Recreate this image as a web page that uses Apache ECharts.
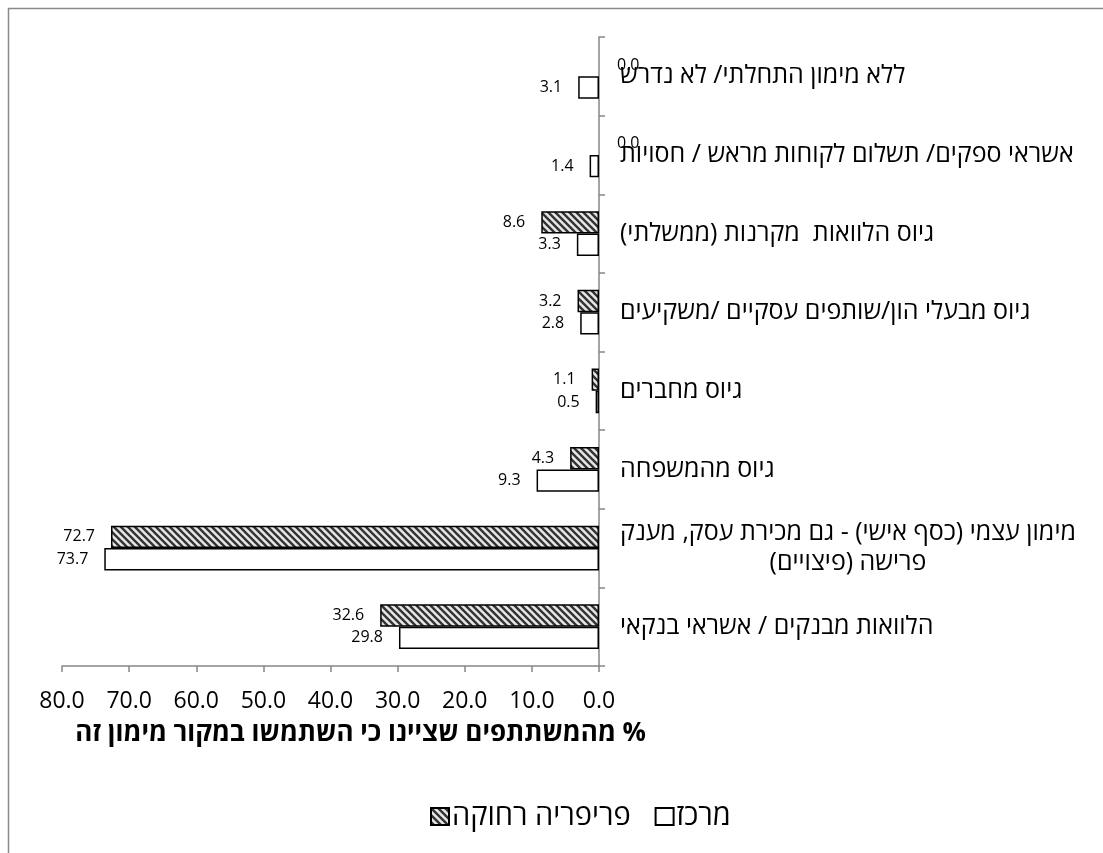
<!DOCTYPE html>
<html>
<head>
<meta charset="utf-8">
<script src="https://cdn.jsdelivr.net/npm/echarts@6/dist/echarts.min.js"></script>
<style>
  html, body { margin: 0; padding: 0; background: #fff; }
  #chart { width: 1103px; height: 853px; }
</style>
</head>
<body>
<div id="chart"></div>
<script>
// Funding sources, listed bottom to top along the category axis
const categories = [
  'הלוואות מבנקים / אשראי בנקאי',
  'מימון עצמי (כסף אישי) - גם מכירת עסק, מענק\nפרישה (פיצויים)',
  'גיוס מהמשפחה',
  'גיוס מחברים',
  'גיוס מבעלי הון/שותפים עסקיים /משקיעים',
  'גיוס הלוואות  מקרנות (ממשלתי)',
  'אשראי ספקים/ תשלום לקוחות מראש / חסויות',
  'ללא מימון התחלתי/ לא נדרש'
];
// Percentage of participants per region
const periphery = [32.6, 72.7, 4.3, 1.1, 3.2, 8.6, 0.0, 0.0];
const center    = [29.8, 73.7, 9.3, 0.5, 2.8, 3.3, 1.4, 3.1];
const seriesNames = ['פריפריה רחוקה', 'מרכז'];
const axisTitle = '% מהמשתתפים שציינו כי השתמשו במקור מימון זה';
const valueAxisMin = 0, valueAxisMax = 80, valueAxisStep = 10;

const FONT = '"Open Sans", "Liberation Sans", "DejaVu Sans", sans-serif';
const AXIS_GRAY = '#868686';

// Hebrew lines are embedded right-to-left so neutral characters land correctly
const rtl = s => '\u202B' + s + '\u202C';

// Diagonal hatch tile used for the periphery bars
function hatchTile() {
  const s = 7;
  const c = document.createElement('canvas');
  c.width = c.height = s;
  const g = c.getContext('2d');
  g.fillStyle = '#e6e6e6';
  g.fillRect(0, 0, s, s);
  g.strokeStyle = '#333';
  g.lineWidth = 2.4;
  g.beginPath();
  for (const k of [-s, 0, s]) {
    g.moveTo(k - 1, -1);
    g.lineTo(k + s + 1, s + 1);
  }
  g.stroke();
  return c;
}
const hatch = { image: hatchTile(), repeat: 'repeat' };

// Zero-length bars get no outline and carry their label on the far side of the axis
function buildData(values) {
  return values.map(v => v === 0
    ? { value: v, itemStyle: { borderWidth: 0 }, label: { position: 'right', distance: 18 } }
    : v);
}

const labelStyle = {
  show: true,
  position: 'left',
  distance: 16,
  fontSize: 16,
  fontFamily: FONT,
  color: '#000',
  formatter: p => Number(p.value).toFixed(1)
};

const chart = echarts.init(document.getElementById('chart'), null, { renderer: 'canvas' });
chart.setOption({
  backgroundColor: '#fff',
  animation: false,
  graphic: [{
    type: 'rect',
    shape: { x: 8.5, y: 8.5, width: 1300, height: 1200 },
    style: { fill: 'none', stroke: '#8a8a8a', lineWidth: 1.5 },
    silent: true,
    z: -10
  }],
  title: {
    text: rtl(axisTitle),
    right: 452,
    top: 716,
    textStyle: { fontSize: 26, fontWeight: 'bold', fontFamily: FONT, color: '#000' }
  },
  legend: {
    data: [seriesNames[0], seriesNames[1]],
    left: 425,
    top: 797,
    icon: 'rect',
    itemWidth: 18,
    itemHeight: 17,
    itemGap: 24,
    textStyle: { fontSize: 29, fontFamily: FONT, color: '#000', padding: [0, 0, 0, -2] }
  },
  grid: { left: 62, right: 504, top: 37, bottom: 187, containLabel: false },
  xAxis: {
    type: 'value',
    inverse: true,
    min: valueAxisMin,
    max: valueAxisMax,
    interval: valueAxisStep,
    splitLine: { show: false },
    axisLine: { show: true, lineStyle: { color: AXIS_GRAY, width: 1.5 } },
    axisTick: { show: true, length: 6, lineStyle: { color: AXIS_GRAY, width: 1.5 } },
    axisLabel: {
      margin: 24,
      fontSize: 23,
      fontFamily: FONT,
      color: '#000',
      formatter: v => v.toFixed(1)
    }
  },
  yAxis: {
    type: 'category',
    position: 'right',
    data: categories,
    axisLine: { show: true, lineStyle: { color: AXIS_GRAY, width: 1.5 } },
    axisTick: { show: true, length: 6, lineStyle: { color: AXIS_GRAY, width: 1.5 } },
    axisLabel: {
      margin: 21,
      fontSize: 25,
      fontFamily: FONT,
      color: '#000',
      formatter: v => {
        const lines = v.split('\n');
        if (lines.length === 1) return '{a|' + rtl(v) + '}';
        return '{a|' + rtl(lines[0]) + '}\n{b|' + rtl(lines[1]) + '}';
      },
      rich: {
        a: { fontSize: 25, fontFamily: FONT, color: '#000', lineHeight: 30 },
        b: { fontSize: 25, fontFamily: FONT, color: '#000', lineHeight: 30, align: 'center' }
      }
    }
  },
  series: [
    {
      name: seriesNames[0],
      type: 'bar',
      data: buildData(periphery),
      barGap: '0%',
      barCategoryGap: '43%',
      itemStyle: { color: hatch, borderColor: '#000', borderWidth: 1.5 },
      label: labelStyle
    },
    {
      name: seriesNames[1],
      type: 'bar',
      data: buildData(center),
      barGap: '0%',
      barCategoryGap: '43%',
      itemStyle: { color: '#fff', borderColor: '#000', borderWidth: 1.5 },
      label: labelStyle
    }
  ]
});
</script>
</body>
</html>
